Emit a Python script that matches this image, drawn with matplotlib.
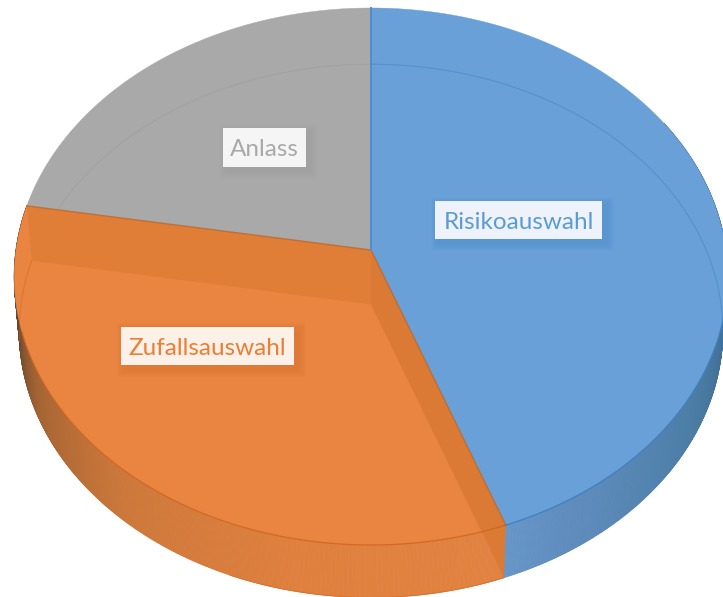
import numpy as np
import matplotlib
matplotlib.use("Agg")
import matplotlib.pyplot as plt
from matplotlib.patches import Rectangle

plt.rcParams["font.family"] = ["Lato", "DejaVu Sans"]

# slices, clockwise from twelve o'clock
labels = ["Risikoauswahl", "Zufallsauswahl", "Anlass"]
shares = [44.4, 33.3, 22.3]

top_colors = ["#68a0d7", "#ea8541", "#a9a9a9"]
rim_colors = ["#3f7fbf", "#c9641f", "#9a9a9a"]
text_colors = ["#5b9bd5", "#ed7d31", "#a9a9a9"]
box_colors = ["#eef3fb", "#fcf1e9", "#f5f5f5"]
# label boxes in pixels: left, top, right, bottom
boxes = [(435, 201, 602, 239), (121, 327, 294, 365), (223, 128, 306, 167)]

# shading of the side wall along the angle
wall_angles = [0, 90, 120, 150, 160, 160.01, 190, 220, 245, 262, 280]
wall_r = [40, 55, 75, 95, 102, 226, 224, 205, 165, 105, 80]
wall_g = [85, 100, 125, 140, 150, 130, 128, 120, 100, 72, 60]
wall_b = [120, 140, 165, 190, 200, 65, 62, 58, 52, 45, 40]

# projection of the tilted disc
PERSP = 0.0987
CX = 371
UPPER = dict(y0=250, r=355, k=265.9)
LOWER = dict(y0=304.5, r=350, k=264.0)


def project(angle, disc, radius=1.0):
    a = np.radians(angle)
    u, v = radius * np.sin(a), radius * np.cos(a)
    s = 1 / (1 + PERSP * v)
    return CX + disc["r"] * u * s, disc["y0"] - disc["k"] * v * s


def wedge(a0, a1, disc):
    t = np.linspace(a0, a1, 240)
    x, y = project(t, disc)
    ax0, ay0 = project(0.0, disc, 0.0)
    return np.r_[ax0, x], np.r_[ay0, y]


fig = plt.figure(figsize=(7.23, 5.97), dpi=100)
ax = fig.add_axes([0, 0, 1, 1])
ax.set_xlim(0, 723)
ax.set_ylim(597, 0)
ax.axis("off")

edges = np.r_[0, np.cumsum(shares)] / np.sum(shares) * 360

# side wall
STEP = 0.25
for a in np.arange(60, edges[2], STEP):
    c = (np.interp(a + STEP / 2, wall_angles, wall_r) / 255,
         np.interp(a + STEP / 2, wall_angles, wall_g) / 255,
         np.interp(a + STEP / 2, wall_angles, wall_b) / 255)
    x0, y0 = project(np.array([a, a + STEP]), UPPER)
    x1, y1 = project(np.array([a + STEP, a]), LOWER)
    ax.fill(np.r_[x0, x1], np.r_[y0, y1], color=c, lw=0.6, zorder=1)

# top faces
for i in range(3):
    x, y = wedge(edges[i], edges[i + 1], UPPER)
    ax.fill(x, y, color=top_colors[i], lw=0.3, zorder=2)

# faint outline of the lower disc seen through the top
for i in [0, 2]:
    lo = edges[i]
    hi = edges[i + 1]
    if i == 0:
        hi = 100
    t = np.linspace(lo, hi, 120)
    x, y = project(t, LOWER)
    ax.plot(x, y, color=rim_colors[i], lw=0.7, alpha=0.5, zorder=3)
t = np.linspace(edges[2], 262, 60)
x, y = project(t, LOWER)
ax.plot(x, y, color=rim_colors[1], lw=0.7, alpha=0.5, zorder=3)


# inner walls of the orange slice
def wall(angle, color):
    xa, ya = project(0.0, UPPER, 0.0)
    xb, yb = project(angle, UPPER)
    xc, yc = project(angle, LOWER)
    xd, yd = project(0.0, LOWER, 0.0)
    ax.fill([xa, xb, xc, xd], [ya, yb, yc, yd], color=color, lw=0, zorder=4)
    ax.plot([xa, xb], [ya, yb], color="#b86a2c", lw=1.0, alpha=0.8, zorder=5)


wall(edges[2], "#e07d37")
wall(edges[1], "#da7a34")

# rims
t = np.linspace(edges[1], edges[2], 200)
x, y = project(t, UPPER)
ax.plot(x[:155], y[:155], color=rim_colors[1], lw=0.9, alpha=0.8, zorder=5)
t = np.linspace(100, edges[1], 120)
x, y = project(t, UPPER)
ax.plot(x, y, color=rim_colors[0], lw=1.0, alpha=0.9, zorder=5)
t = np.linspace(edges[1], edges[2], 200)
x, y = project(t[:70], LOWER)
ax.plot(x, y, color="#d9752f", lw=0.8, zorder=5)
xa, ya = project(0.0, UPPER, 0.0)
xb, yb = project(0.0, UPPER)
ax.plot([xa, xb], [ya, yb], color="#4f8fcf", lw=1.4, zorder=5)

# data labels with a soft shadow
for name, box, tc, bc, sc in zip(labels, boxes, text_colors, box_colors, rim_colors):
    l, t_, r, b = box
    for grow in range(8, 0, -1):
        ax.add_patch(Rectangle((l + 4 - grow, t_ + 4 - grow), r - l + 2 * grow, b - t_ + 2 * grow,
                               fc=sc, ec="none", alpha=0.035, zorder=6))
    ax.add_patch(Rectangle((l, t_), r - l, b - t_, fc=bc, ec="none", zorder=7))
    ax.text((l + r) / 2, (t_ + b) / 2 + 2.5, name, color=tc, fontsize=17.5,
            ha="center", va="center", zorder=8)

fig.savefig("out.png", dpi=100)
